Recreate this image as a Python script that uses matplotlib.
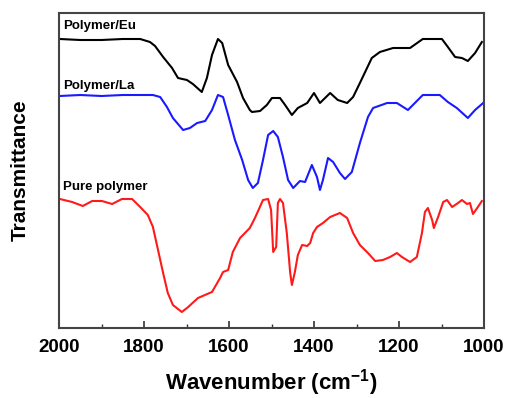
import matplotlib
matplotlib.use("Agg")
import matplotlib.pyplot as plt
from matplotlib.ticker import MultipleLocator

plt.rcParams['font.family'] = ['Liberation Sans', 'DejaVu Sans']

# Polymer/Eu (black)
eu_w = [1998, 1950, 1900, 1850, 1809, 1786, 1774, 1755, 1734, 1720, 1699, 1685, 1664, 1652,
        1640, 1626, 1616, 1602, 1581, 1567, 1551, 1546, 1527, 1511, 1499, 1480, 1468, 1452,
        1438, 1416, 1400, 1386, 1362, 1344, 1322, 1308, 1292, 1264, 1245, 1214, 1191, 1174,
        1144, 1099, 1085, 1068, 1052, 1038, 1021, 1005]
eu_t = [289, 288, 288, 289, 289, 286, 282, 271, 260, 250, 248, 244, 236, 250,
        273, 289, 285, 263, 246, 230, 218, 216, 217, 223, 230, 230, 223, 213,
        220, 225, 235, 225, 235, 228, 225, 231, 245, 270, 276, 280, 280, 280,
        289, 289, 281, 271, 270, 267, 275, 286]

# Polymer/La (blue)
la_w = [1998, 1950, 1900, 1850, 1809, 1779, 1762, 1746, 1732, 1708, 1692, 1675, 1656, 1640,
        1626, 1614, 1602, 1586, 1569, 1555, 1544, 1532, 1520, 1508, 1496, 1485, 1473, 1461,
        1449, 1433, 1421, 1405, 1393, 1386, 1379, 1367, 1355, 1339, 1327, 1311, 1292, 1273,
        1261, 1228, 1205, 1179, 1144, 1122, 1104, 1085, 1064, 1038, 1021, 1002]
la_t = [232, 233, 232, 233, 233, 233, 231, 221, 210, 198, 200, 205, 207, 218,
        233, 231, 213, 188, 168, 148, 140, 145, 168, 193, 197, 191, 171, 148,
        140, 147, 146, 163, 151, 138, 148, 170, 166, 155, 149, 156, 185, 211,
        220, 225, 225, 218, 233, 233, 233, 226, 220, 210, 218, 225]

# Pure polymer (red)
pp_w = [1998, 1969, 1944, 1922, 1899, 1875, 1852, 1828, 1809, 1791, 1779, 1767, 1755, 1744,
        1732, 1711, 1696, 1673, 1640, 1621, 1614, 1602, 1591, 1574, 1551, 1539, 1520, 1508,
        1501, 1496, 1489, 1485, 1480, 1473, 1464, 1456, 1452, 1445, 1438, 1428, 1416, 1409,
        1402, 1393, 1379, 1362, 1339, 1322, 1308, 1292, 1273, 1256, 1238, 1221, 1205, 1193,
        1174, 1158, 1146, 1139, 1132, 1122, 1118, 1108, 1096, 1087, 1075, 1061, 1052, 1040,
        1033, 1026, 1016, 1005]
pp_t = [129, 126, 122, 127, 127, 124, 129, 129, 121, 113, 101, 78, 55, 35,
        23, 16, 21, 30, 36, 50, 56, 58, 76, 90, 100, 110, 128, 129,
        118, 76, 81, 125, 129, 125, 95, 55, 43, 56, 73, 83, 82, 85,
        95, 101, 105, 111, 115, 110, 95, 83, 75, 67, 68, 71, 75, 71,
        66, 71, 95, 116, 120, 108, 100, 111, 126, 128, 121, 125, 128, 124,
        125, 114, 120, 127]

labels = ['Polymer/Eu', 'Polymer/La', 'Pure polymer']
label_y = [302, 242, 141]
xticks = [2000, 1800, 1600, 1400, 1200, 1000]

fig = plt.figure(figsize=(5.05, 3.98), dpi=100)
ax = fig.add_axes([59/505, 1-328/398, 425/505, 315/398])

ax.plot(eu_w, eu_t, color='black', lw=1.5)
ax.plot(la_w, la_t, color='#1a1aff', lw=1.5)
ax.plot(pp_w, pp_t, color='#ff1a1a', lw=1.5)

for lab, y in zip(labels, label_y):
    ax.text(1990, y, lab, fontsize=9.5, fontweight='bold', va='center', ha='left')

ax.set_xlim(2000, 1000)
ax.set_ylim(0, 315)
ax.set_xticks(xticks)
ax.xaxis.set_minor_locator(MultipleLocator(100))
ax.set_yticks([])
ax.tick_params(axis='x', which='major', direction='in', length=5, width=1.2,
               labelsize=13.5, pad=8, color='#333333')
ax.tick_params(axis='x', which='minor', direction='in', length=3, width=1.0, color='#333333')
for lbl in ax.get_xticklabels():
    lbl.set_fontweight('bold')
for sp in ax.spines.values():
    sp.set_color('#444444')
    sp.set_linewidth(1.5)

ax.set_xlabel('Wavenumber (cm$^{\\mathregular{-1}}$)', fontsize=16, fontweight='bold', labelpad=8)
ax.set_ylabel('Transmittance', fontsize=15, fontweight='bold', labelpad=21)

fig.savefig('out.png', dpi=100)
